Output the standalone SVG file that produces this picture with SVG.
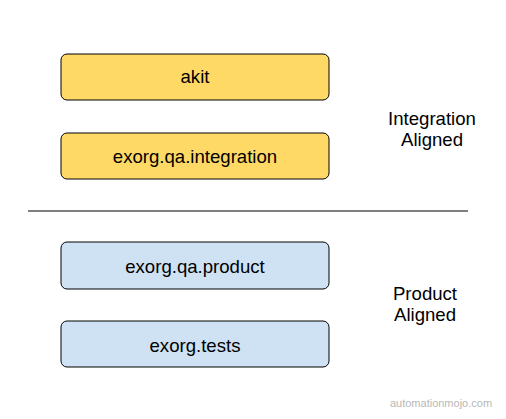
<svg xmlns="http://www.w3.org/2000/svg" width="506" height="419" viewBox="0 0 506 419">
<style>
.box{stroke:#000;stroke-width:1}
.y{fill:#FFD966}
.b{fill:#CFE2F3}
.t{font-family:"Liberation Sans",Arial,sans-serif;font-size:18.6px;fill:#000;text-anchor:middle}
.w{font-family:"Liberation Sans",Arial,sans-serif;font-size:11px;fill:#b8b8b8;text-anchor:middle}
</style>
<rect width="506" height="419" fill="#fff"/>
<g id="akit"><rect class="box y" x="61" y="54" width="268" height="46" rx="6"/><text class="t" x="195" y="83">akit</text></g>
<g id="integration"><rect class="box y" x="61" y="133" width="268" height="46" rx="6"/><text class="t" x="195" y="163">exorg.qa.integration</text></g>
<g id="product"><rect class="box b" x="61" y="242" width="268" height="47" rx="6"/><text class="t" x="195" y="273">exorg.qa.product</text></g>
<g id="tests"><rect class="box b" x="61" y="321" width="268" height="46" rx="6"/><text class="t" x="195" y="352">exorg.tests</text></g>
<g id="connectors"><line x1="28" y1="211" x2="468" y2="211" stroke="#000" stroke-width="1"/></g>
<g id="label-integration"><text class="t" x="432" y="125">Integration</text><text class="t" x="432" y="146">Aligned</text></g>
<g id="label-product"><text class="t" x="425" y="300">Product</text><text class="t" x="425" y="321">Aligned</text></g>
<text class="w" x="441" y="407">automationmojo.com</text>
</svg>
